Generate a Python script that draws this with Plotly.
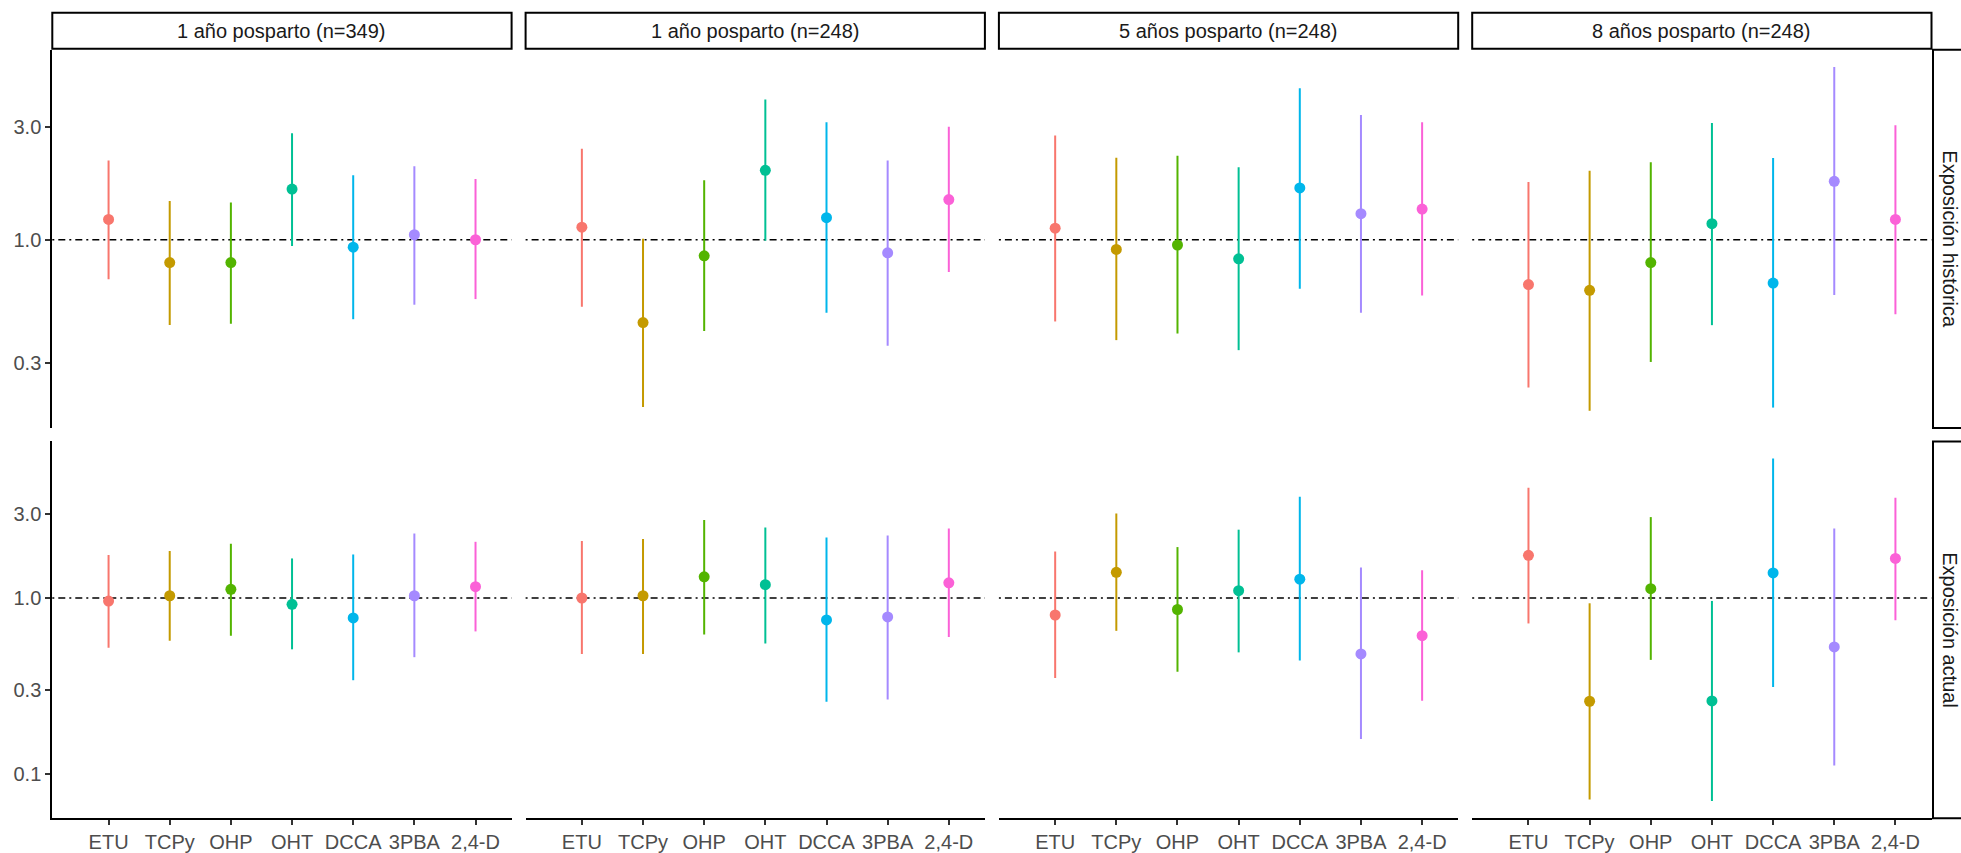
import math
import plotly.graph_objects as go

# Metabolites on the x axis and facet labels
categories = ["ETU", "TCPy", "OHP", "OHT", "DCCA", "3PBA", "2,4-D"]
periods = ["1 año posparto (n=349)", "1 año posparto (n=248)",
           "5 años posparto (n=248)", "8 años posparto (n=248)"]
exposures = ["Exposición histórica", "Exposición actual"]
y_tick_values = [0.1, 0.3, 1.0, 3.0]
y_tick_labels = ["0.1", "0.3", "1.0", "3.0"]

# Exposición histórica: estimate, lower and upper limit per period
hist_1a349_est = [1.22, 0.80, 0.80, 1.64, 0.93, 1.05, 1.00]
hist_1a349_lo = [0.68, 0.435, 0.44, 0.94, 0.46, 0.53, 0.56]
hist_1a349_hi = [2.17, 1.46, 1.44, 2.83, 1.88, 2.05, 1.81]

hist_1a248_est = [1.13, 0.445, 0.855, 1.97, 1.24, 0.88, 1.48]
hist_1a248_lo = [0.52, 0.195, 0.41, 0.99, 0.49, 0.355, 0.73]
hist_1a248_hi = [2.43, 1.01, 1.79, 3.94, 3.15, 2.17, 3.02]

hist_5a_est = [1.12, 0.91, 0.95, 0.83, 1.66, 1.29, 1.35]
hist_5a_lo = [0.45, 0.375, 0.40, 0.34, 0.62, 0.49, 0.58]
hist_5a_hi = [2.77, 2.23, 2.27, 2.03, 4.39, 3.38, 3.15]

hist_8a_est = [0.645, 0.61, 0.80, 1.17, 0.655, 1.77, 1.22]
hist_8a_lo = [0.236, 0.188, 0.303, 0.434, 0.194, 0.583, 0.483]
hist_8a_hi = [1.76, 1.96, 2.13, 3.13, 2.22, 5.41, 3.06]

# Exposición actual: estimate, lower and upper limit per period
act_1a349_est = [0.96, 1.03, 1.12, 0.92, 0.77, 1.03, 1.16]
act_1a349_lo = [0.52, 0.57, 0.61, 0.51, 0.34, 0.46, 0.645]
act_1a349_hi = [1.76, 1.85, 2.04, 1.68, 1.77, 2.33, 2.09]

act_1a248_est = [1.00, 1.03, 1.32, 1.19, 0.75, 0.78, 1.22]
act_1a248_lo = [0.48, 0.48, 0.62, 0.55, 0.256, 0.264, 0.60]
act_1a248_hi = [2.11, 2.17, 2.78, 2.52, 2.21, 2.27, 2.49]

act_5a_est = [0.80, 1.40, 0.86, 1.10, 1.28, 0.48, 0.61]
act_5a_lo = [0.35, 0.65, 0.38, 0.49, 0.44, 0.157, 0.26]
act_5a_hi = [1.84, 3.03, 1.95, 2.45, 3.78, 1.49, 1.44]

act_8a_est = [1.75, 0.258, 1.13, 0.259, 1.39, 0.526, 1.68]
act_8a_lo = [0.716, 0.071, 0.444, 0.0697, 0.311, 0.111, 0.747]
act_8a_hi = [4.25, 0.933, 2.89, 0.962, 6.23, 2.49, 3.73]

panels = [
    [(hist_1a349_est, hist_1a349_lo, hist_1a349_hi),
     (hist_1a248_est, hist_1a248_lo, hist_1a248_hi),
     (hist_5a_est, hist_5a_lo, hist_5a_hi),
     (hist_8a_est, hist_8a_lo, hist_8a_hi)],
    [(act_1a349_est, act_1a349_lo, act_1a349_hi),
     (act_1a248_est, act_1a248_lo, act_1a248_hi),
     (act_5a_est, act_5a_lo, act_5a_hi),
     (act_8a_est, act_8a_lo, act_8a_hi)],
]

colors = ["#F8766D", "#C49A00", "#53B400", "#00C094", "#00B6EB", "#A58AFF", "#FB61D7"]

W, H = 1961, 853
FONT = "Liberation Sans, Arial, sans-serif"

# Panel geometry in pixels
col_left = [52.3, 525.6, 998.9, 1472.2]
col_width = 459.3
row_top = [50.0, 443.5]
row_bottom = [430.0, 822.0]
strip_top, strip_bottom = 12.7, 49.0
rstrip_left = 1933.0


def px_x(v):
    return v / W


def px_y(v):
    return 1 - v / H


def log_range(row):
    vals = []
    for est, lo, hi in panels[row]:
        vals += lo + hi
    a, b = math.log10(min(vals)), math.log10(max(vals))
    pad = 0.05 * (b - a)
    return [a - pad, b + pad]


fig = go.Figure()
layout = {}
shapes = []
annotations = []

for r in range(2):
    yr = log_range(r)
    for c in range(4):
        i = r * 4 + c + 1
        xa = "xaxis" if i == 1 else f"xaxis{i}"
        ya = "yaxis" if i == 1 else f"yaxis{i}"
        xref = "x" if i == 1 else f"x{i}"
        yref = "y" if i == 1 else f"y{i}"
        bottom = r == 1
        left = c == 0

        layout[xa] = dict(
            domain=[px_x(col_left[c]), px_x(col_left[c] + col_width)],
            anchor=yref, type="category", categoryorder="array",
            categoryarray=categories, range=[-0.92, 6.59],
            showgrid=False, zeroline=False,
            showline=bottom, linecolor="black", linewidth=2,
            ticks="outside" if bottom else "", ticklen=5, tickwidth=2,
            tickcolor="#333333", showticklabels=bottom,
            tickfont=dict(family=FONT, size=20, color="#4D4D4D"),
        )
        layout[ya] = dict(
            domain=[px_y(row_bottom[r]), px_y(row_top[r])],
            anchor=xref, type="log", range=yr,
            tickvals=y_tick_values, ticktext=y_tick_labels,
            showgrid=False, zeroline=False,
            showline=left, linecolor="black", linewidth=2,
            ticks="outside" if left else "", ticklen=5, tickwidth=2,
            tickcolor="#333333", showticklabels=left,
            tickfont=dict(family=FONT, size=20, color="#4D4D4D"),
        )

        # reference line at 1
        shapes.append(dict(
            type="line", xref=f"{xref} domain", yref=yref,
            x0=0, x1=1, y0=1, y1=1, layer="below",
            line=dict(color="black", width=1.3, dash="2px,4px,7px,4px"),
        ))

        est, lo, hi = panels[r][c]
        for k, cat in enumerate(categories):
            fig.add_trace(go.Scatter(
                x=[cat, cat], y=[lo[k], hi[k]], mode="lines",
                line=dict(color=colors[k], width=2),
                xaxis=xref, yaxis=yref, showlegend=False, hoverinfo="skip",
            ))
        fig.add_trace(go.Scatter(
            x=categories, y=est, mode="markers",
            marker=dict(color=colors, size=11, line=dict(width=0)),
            xaxis=xref, yaxis=yref, showlegend=False,
        ))

# Column strips
for c in range(4):
    shapes.append(dict(
        type="rect", xref="paper", yref="paper",
        x0=px_x(col_left[c]), x1=px_x(col_left[c] + col_width),
        y0=px_y(strip_bottom), y1=px_y(strip_top),
        line=dict(color="black", width=2), fillcolor="white",
    ))
    annotations.append(dict(
        text=periods[c], xref="paper", yref="paper",
        x=px_x(col_left[c] + col_width / 2), y=px_y((strip_top + strip_bottom) / 2),
        showarrow=False, xanchor="center", yanchor="middle",
        font=dict(family=FONT, size=20, color="#1A1A1A"),
    ))

# Row strips
for r in range(2):
    shapes.append(dict(
        type="rect", xref="paper", yref="paper",
        x0=px_x(rstrip_left), x1=px_x(rstrip_left + 40),
        y0=px_y(row_bottom[r]), y1=px_y(row_top[r]),
        line=dict(color="black", width=2), fillcolor="white",
    ))
    annotations.append(dict(
        text=exposures[r], xref="paper", yref="paper",
        x=px_x(1950.5), y=px_y((row_top[r] + row_bottom[r]) / 2),
        showarrow=False, xanchor="center", yanchor="middle", textangle=90,
        font=dict(family=FONT, size=20, color="#1A1A1A"),
    ))

fig.update_layout(
    width=W, height=H,
    margin=dict(l=0, r=0, t=0, b=0),
    paper_bgcolor="white", plot_bgcolor="white",
    shapes=shapes, annotations=annotations,
    showlegend=False,
    **layout,
)

fig.write_html("out.html")
